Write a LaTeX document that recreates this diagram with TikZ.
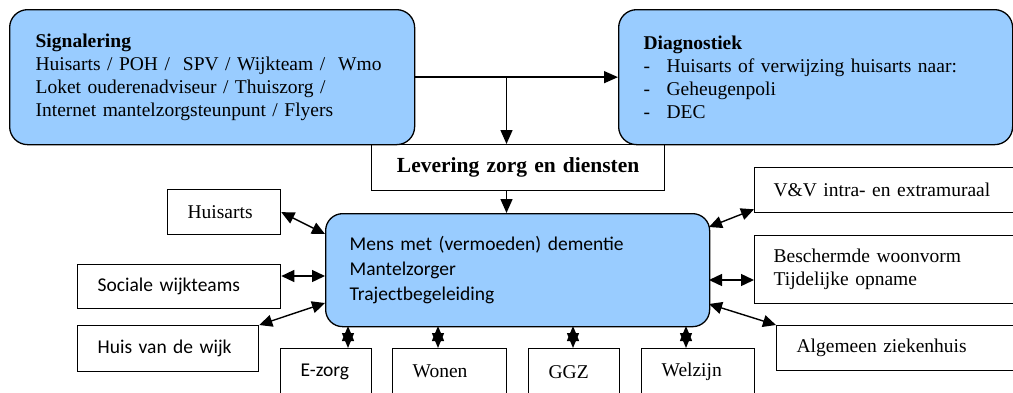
\documentclass[tikz,border=0pt]{standalone}
\usepackage{fontspec}
\setmainfont{Liberation Serif}
\newfontfamily\calibri{Carlito}
\usetikzlibrary{arrows.meta, calc}
\definecolor{lichtblauw}{RGB}{153,204,255}
\newcommand{\streep}{\makebox[23pt][l]{-}}

\begin{document}
\begin{tikzpicture}[x=1pt, y=-1pt,
  blok/.style={draw, line width=1.3pt, rounded corners=18pt, fill=lichtblauw, anchor=north west, align=left, font=\rmfamily\fontsize{19.5}{23}\selectfont},
  kader/.style={draw, line width=1.3pt, anchor=north west, align=left, inner xsep=20pt, font=\rmfamily\fontsize{19.5}{23}\selectfont},
  pijl/.style={line width=1.4pt, -{Triangle[length=14pt, width=12pt]}},
  dubbel/.style={line width=1.4pt, {Triangle[length=13pt, width=12pt]}-{Triangle[length=13pt, width=12pt]}},
  ster/.style={line width=1.4pt, {Triangle[length=15pt, width=12pt]}-{Triangle[length=15pt, width=12pt]}}]
\useasboundingbox (0,0) rectangle (1013,392);
\clip (0,0) rectangle (1013,392);
% bovenste rij
\node[blok, text width=353pt, inner xsep=26pt, minimum height=135pt] (signal) at (9,9)
  {\textbf{Signalering}\\ Huisarts / POH /\ \ SPV / Wijkteam /\ \ Wmo\\ Loket ouderenadviseur / Thuiszorg /\\ Internet mantelzorgsteunpunt / Flyers};
\node[blok, text width=344pt, inner xsep=25pt, minimum height=135pt] (diag) at (618,9)
  {\textbf{Diagnostiek}\\ \streep Huisarts of verwijzing huisarts naar:\\ \streep Geheugenpoli\\ \streep DEC};
\node[kader, align=center, inner xsep=4pt, text width=285pt, minimum height=46pt, font=\rmfamily\bfseries\fontsize{21.5}{23}\selectfont] (lev) at (371,144) {Levering zorg en diensten};
% midden
\node[blok, rounded corners=17pt, text width=336pt, inner xsep=24pt, minimum height=113pt, font=\calibri\fontsize{19.5}{25}\selectfont] (mens) at (325,213)
  {Mens met (vermoeden) dementie\\ Mantelzorger\\ Trajectbegeleiding};
% links
\node[kader, text width=73pt, minimum height=45pt] (ha) at (167,189) {Huisarts};
\node[kader, text width=163pt, minimum height=44pt, font=\calibri\fontsize{19.5}{23}\selectfont] (soc) at (77,264) {Sociale wijkteams};
\node[kader, text width=141pt, minimum height=46pt, font=\calibri\fontsize{19.5}{23}\selectfont] (hvw) at (77,325) {Huis van de wijk};
% onder
\node[kader, text width=51pt, minimum height=46pt, font=\calibri\fontsize{19.5}{23}\selectfont] (ezorg) at (280,348) {E-zorg};
\node[kader, text width=74pt, minimum height=46pt] (wonen) at (392,348) {Wonen};
\node[kader, text width=51pt, minimum height=46pt] (ggz) at (528,348) {GGZ};
\node[kader, text width=73pt, minimum height=46pt] (welz) at (641,348) {Welzijn};
% rechts
\node[kader, inner xsep=19pt, text width=232pt, minimum height=45pt] (vv) at (754,167) {V\&V intra- en extramuraal};
\node[kader, inner xsep=19pt, text width=232pt, minimum height=68pt] (bw) at (754,235) {Beschermde woonvorm\\ Tijdelijke opname};
\node[kader, text width=210pt, minimum height=45pt] (az) at (776,325) {Algemeen ziekenhuis};

% pijlen boven
\coordinate (split) at ($(signal.east)!0.45!(diag.west)$);
\draw[pijl] (signal.east) -- (diag.west);
\draw[pijl] (split) -- (split |- lev.north);
\draw[pijl] (lev.south -| split) -- (mens.north -| split);
% pijlen links
\coordinate (mw1) at (325,234);
\coordinate (mw2) at (325,276);
\coordinate (mw3) at (325,303);
\draw[dubbel] (ha.east) -- (mw1);
\draw[dubbel] (mw2 -| soc.east) -- (mw2);
\draw[dubbel] (hvw.north east) -- (mw3);
% pijlen rechts
\coordinate (mo1) at (709,227);
\coordinate (mo2) at (709,280);
\coordinate (mo3) at (709,304);
\draw[dubbel] (mo1) -- ($(vv.south west)+(0,-4)$);
\draw[dubbel] (mo2) -- (mo2 -| bw.west);
\draw[dubbel] (mo3) -- (az.north west);
% pijlen onder
\foreach \x/\n in {348/ezorg, 438/wonen, 573/ggz, 686/welz}{
  \coordinate (mz\n) at (\x,326);
  \draw[ster] (mz\n) -- (mz\n |- \n.north);
}
\end{tikzpicture}
\end{document}
